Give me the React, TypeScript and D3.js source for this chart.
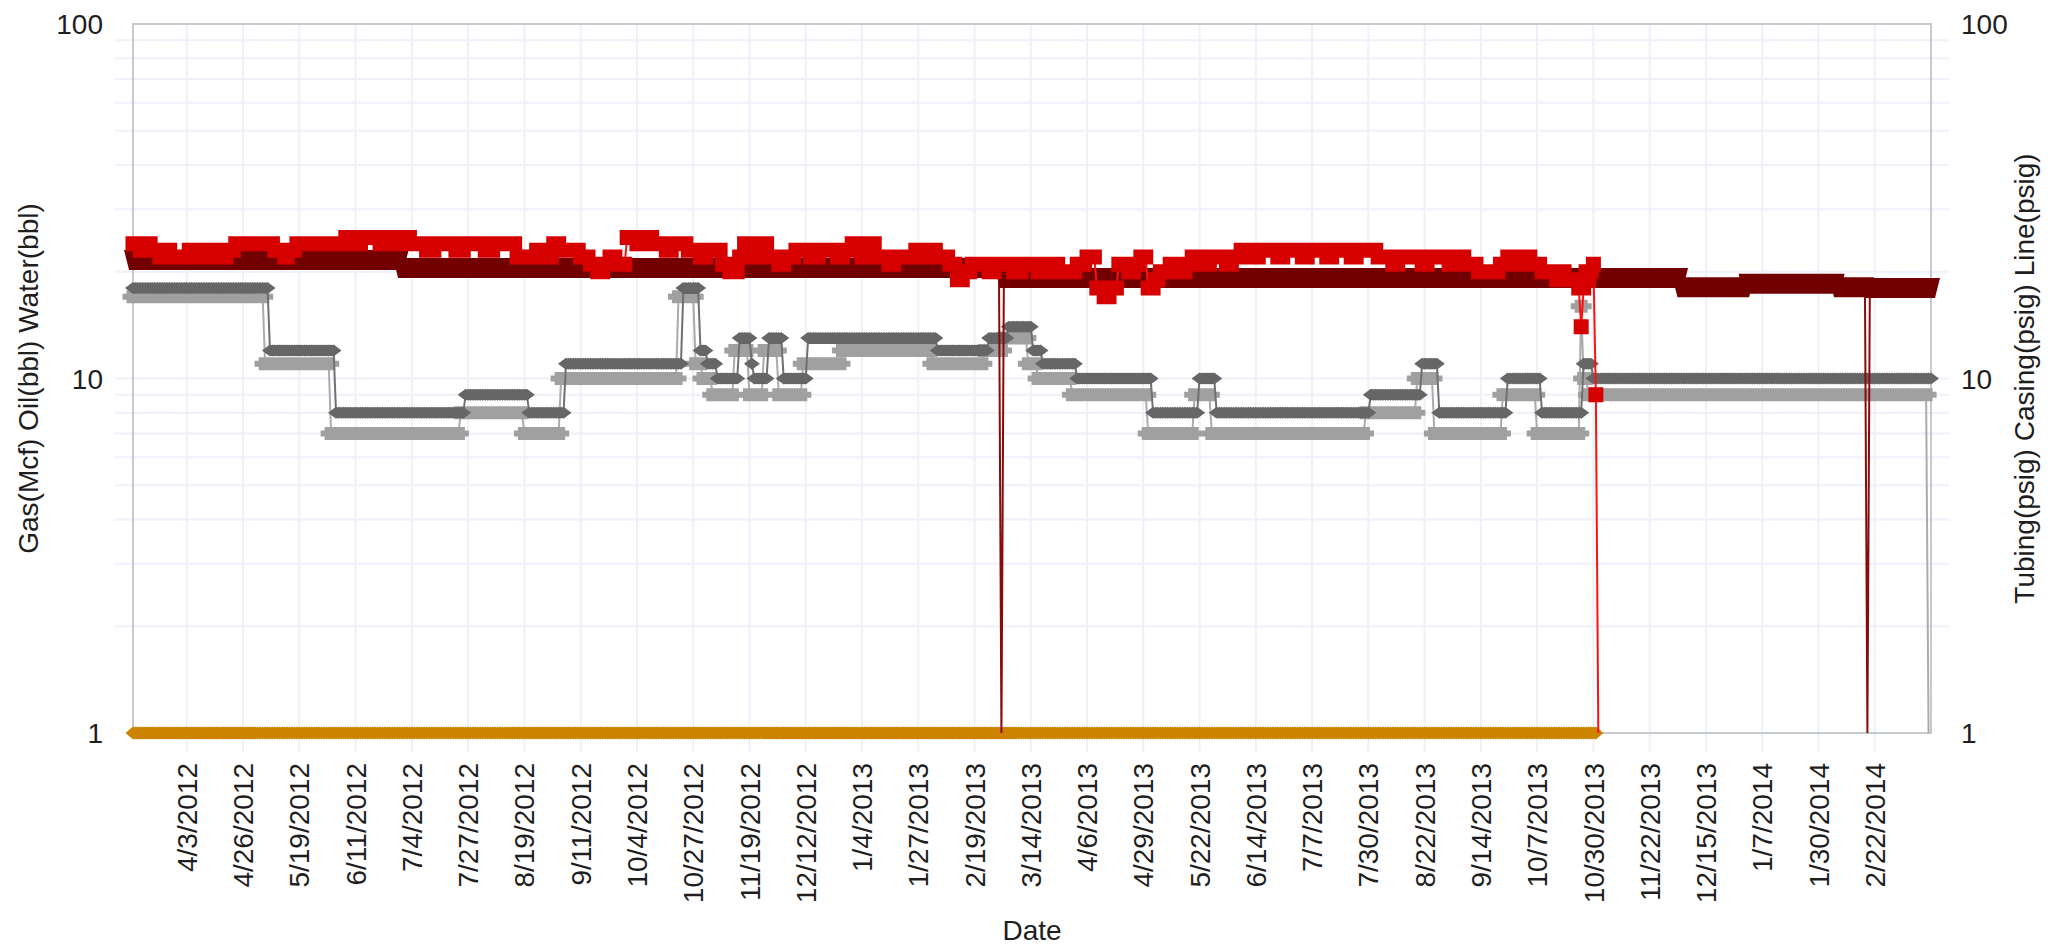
import React from "react";
import * as d3 from "d3";

// ---------- DATA ----------
// Daily readings, stored as step change points: [day index since 2012-03-12, value]
const START_DAY = "2012-03-12";
const END_DAY = "2014-03-17";

const tickLabels = [
  "4/3/2012", "4/26/2012", "5/19/2012", "6/11/2012", "7/4/2012", "7/27/2012", "8/19/2012",
  "9/11/2012", "10/4/2012", "10/27/2012", "11/19/2012", "12/12/2012", "1/4/2013", "1/27/2013",
  "2/19/2013", "3/14/2013", "4/6/2013", "4/29/2013", "5/22/2013", "6/14/2013", "7/7/2013",
  "7/30/2013", "8/22/2013", "9/14/2013", "10/7/2013", "10/30/2013", "11/22/2013", "12/15/2013",
  "1/7/2014", "1/30/2014", "2/22/2014",
];
const yTickValues = [1, 10, 100];

// Gas (Mcf) - red squares
const gasMcf: [number, number][] = [
  [0, 24], [3, 23], [5, 24], [8, 23], [11, 22], [13, 23], [16, 22], [23, 23], [28, 22], [31, 23],
  [36, 22], [39, 23], [42, 24], [58, 23], [62, 22], [64, 23], [67, 24], [87, 25], [91, 24], [94, 25],
  [101, 24], [104, 25], [108, 24], [111, 25], [114, 24], [120, 23], [124, 24], [132, 23], [136, 24],
  [144, 23], [148, 24], [157, 22], [165, 23], [168, 22], [172, 24], [175, 23], [183, 22], [187, 21],
  [190, 20], [193, 21], [195, 22], [198, 21], [202, 25], [206, 24], [209, 25], [213, 24], [218, 23],
  [221, 24], [227, 23], [232, 22], [235, 23], [241, 21], [244, 20], [248, 22], [250, 24], [254, 22],
  [257, 24], [260, 22], [264, 21], [267, 22], [271, 23], [277, 22], [281, 23], [288, 22], [291, 23],
  [294, 24], [298, 22], [301, 24], [304, 22], [309, 21], [312, 22], [320, 23], [324, 22], [326, 23],
  [329, 22], [334, 21], [337, 19], [340, 20], [343, 21], [350, 20], [353, 21], [360, 20], [364, 21],
  [370, 20], [374, 21], [379, 20], [386, 21], [390, 22], [394, 18], [397, 17], [400, 18], [403, 21],
  [407, 20], [410, 21], [412, 22], [415, 18], [418, 19], [420, 20], [424, 21], [428, 20], [431, 21],
  [433, 22], [438, 21], [441, 22], [447, 21], [450, 22], [453, 23], [458, 22], [461, 23], [468, 22],
  [471, 23], [478, 22], [481, 23], [488, 22], [491, 23], [498, 22], [501, 23], [509, 22], [515, 21],
  [518, 22], [527, 21], [530, 22], [538, 21], [541, 22], [545, 21], [550, 20], [559, 21], [562, 22],
  [566, 21], [569, 22], [572, 21], [576, 20], [582, 19], [584, 20], [586, 19], [591, 18], [592, 14],
  [593, 18], [594, 20], [595, 19], [596, 20], [597, 21], [598, 9], [599, 0],
];
const gasLastDay = 599;

// Oil (bbl) / Water (bbl) - orange, sitting on the axis floor
const oilBbl: [number, number][] = [[0, 1]];
const oilLastDay = 598;

// Tubing (psig) - light gray
const tubingPsig: [number, number][] = [
  [0, 17], [54, 11], [81, 7], [134, 8], [160, 7], [175, 10], [223, 17], [230, 11], [233, 10],
  [237, 9], [246, 12], [252, 9], [258, 12], [264, 9], [274, 11], [290, 12], [327, 11], [348, 12],
  [356, 13], [366, 11], [370, 10], [384, 9], [415, 7], [434, 9], [441, 7], [504, 8], [525, 10],
  [532, 7], [560, 9], [574, 7], [592, 16], [593, 10], [595, 9], [734, 0],
];
const tubingLastDay = 734;

// Casing (psig) - dark gray
const casingPsig: [number, number][] = [
  [0, 18], [56, 12], [83, 8], [136, 9], [162, 8], [177, 11], [225, 18], [232, 12], [235, 11],
  [239, 10], [248, 13], [253, 11], [254, 10], [260, 13], [266, 10], [276, 13], [329, 12], [350, 13],
  [358, 14], [368, 12], [372, 11], [386, 10], [417, 8], [436, 10], [443, 8], [506, 9], [527, 11],
  [534, 8], [562, 10], [576, 8], [593, 11], [597, 10],
];
const casingLastDay = 735;

// Line (psig) - dark red
const linePsig: [number, number][] = [
  [0, 21.6], [110, 20.5], [355, 0], [356, 19.2], [633, 18.1], [660, 18.5], [697, 18.1],
  [709, 0], [710, 18.0],
];
const lineLastDay = 735;

// ---------- CHART ----------
type Pt = { date: Date; v: number };

function expand(steps: [number, number][], lastDay: number, start: Date): Pt[] {
  const pts: Pt[] = [];
  let k = 0;
  for (let d = steps[0][0]; d <= lastDay; d++) {
    while (k + 1 < steps.length && steps[k + 1][0] <= d) k++;
    pts.push({ date: d3.timeDay.offset(start, d), v: steps[k][1] });
  }
  return pts;
}

export default function App() {
  const W = 2049;
  const H = 948;
  const L = 133;
  const R = 1931;
  const T = 24;
  const B = 733;
  const FONT = "'Liberation Sans', Arial, sans-serif";
  const FS = 28;

  const parseISO = d3.timeParse("%Y-%m-%d");
  const parseMDY = d3.timeParse("%m/%d/%Y");
  const start = parseISO(START_DAY)!;
  const end = parseISO(END_DAY)!;

  const x = d3.scaleTime().domain([start, end]).range([L, R]);
  const y = d3.scaleLog().domain([1, 100]).range([B, T]);
  const yv = (v: number) => (v <= 1 ? B : y(v));

  const ticks = tickLabels.map((t) => ({ label: t, date: parseMDY(t)! }));
  const minor: number[] = [];
  [1, 10].forEach((dec) => {
    for (let m = 2; m <= 9; m++) minor.push(m * dec);
  });
  minor.push(10);

  const line = d3
    .line<Pt>()
    .x((d) => x(d.date))
    .y((d) => yv(d.v));

  const markerPath = (pts: Pt[], shape: (cx: number, cy: number) => string) =>
    pts
      .filter((p) => p.v > 0)
      .map((p) => shape(x(p.date), yv(p.v)))
      .join("");

  const square = (cx: number, cy: number) => `M${cx - 7.5},${cy - 7.5}h15v15h-15z`;
  const diamond = (w: number, h: number) => (cx: number, cy: number) =>
    `M${cx - w / 2},${cy}L${cx},${cy - h / 2}L${cx + w / 2},${cy}L${cx},${cy + h / 2}z`;
  const trapDown = (cx: number, cy: number) => `M${cx - 9},${cy - 10}h18l-5,20h-8z`;
  const plusBox = (cx: number, cy: number) =>
    `M${cx - 6.5},${cy - 6.5}h13v13h-13zM${cx - 10.5},${cy - 3}h21v6h-21z`;

  const series = [
    { name: "Oil", pts: expand(oilBbl, oilLastDay, start), color: "#CC8400", line: "#CC8400", shape: diamond(15, 13) },
    { name: "Tubing", pts: expand(tubingPsig, tubingLastDay, start), color: "#A0A0A0", line: "#ABABAB", shape: plusBox },
    { name: "Casing", pts: expand(casingPsig, casingLastDay, start), color: "#666666", line: "#707070", shape: diamond(16, 12) },
    { name: "Line", pts: expand(linePsig, lineLastDay, start), color: "#720000", line: "#8A0A0A", shape: trapDown },
    { name: "Gas", pts: expand(gasMcf, gasLastDay, start), color: "#D60000", line: "#FF1010", shape: square },
  ];

  const gridColor = "#EEF0FA";
  const borderColor = "#C5CACF";
  const textColor = "#1E1E1E";

  return (
    <svg
      width={W}
      height={H}
      viewBox={`0 0 ${W} ${H}`}
      style={{ position: "absolute", left: 0, top: 0, background: "#fff" }}
      fontFamily={FONT}
    >
      <rect x={0} y={0} width={W} height={H} fill="#fff" />
      {/* horizontal grid */}
      {minor.map((v) => (
        <line key={"h" + v} x1={L - 18} x2={R + 18} y1={y(v)} y2={y(v)} stroke={gridColor} strokeWidth={2} />
      ))}
      {/* vertical grid */}
      {ticks.map((t) => (
        <line key={"v" + t.label} x1={x(t.date)} x2={x(t.date)} y1={T} y2={B + 19} stroke={gridColor} strokeWidth={2} />
      ))}
      {/* plot border */}
      <rect x={L} y={T} width={R - L} height={B - T} fill="none" stroke={borderColor} strokeWidth={2} />

      {/* series */}
      {series.map((s) => (
        <g key={s.name}>
          <path d={line(s.pts) || ""} fill="none" stroke={s.line} strokeWidth={2} />
          <path d={markerPath(s.pts, s.shape)} fill={s.color} stroke="none" />
        </g>
      ))}

      {/* left axis labels */}
      {yTickValues.map((v) => (
        <text key={"yl" + v} x={103} y={y(v)} dy="0.36em" textAnchor="end" fontSize={FS} fill={textColor}>
          {v}
        </text>
      ))}
      {/* right axis labels */}
      {yTickValues.map((v) => (
        <text key={"yr" + v} x={1961} y={y(v)} dy="0.36em" textAnchor="start" fontSize={FS} fill={textColor}>
          {v}
        </text>
      ))}
      {/* x tick labels */}
      {ticks.map((t) => (
        <text
          key={"xl" + t.label}
          transform={`translate(${x(t.date)},763) rotate(-90)`}
          textAnchor="end"
          dy="0.36em"
          fontSize={FS}
          fill={textColor}
        >
          {t.label}
        </text>
      ))}
      {/* axis titles */}
      <text x={(L + R) / 2} y={940} textAnchor="middle" fontSize={FS} fill={textColor}>
        Date
      </text>
      <text transform={`translate(38,${(T + B) / 2}) rotate(-90)`} textAnchor="middle" fontSize={FS} fill={textColor}>
        Gas(Mcf) Oil(bbl) Water(bbl)
      </text>
      <text transform={`translate(2034,${(T + B) / 2}) rotate(-90)`} textAnchor="middle" fontSize={FS} fill={textColor}>
        Tubing(psig) Casing(psig) Line(psig)
      </text>
    </svg>
  );
}
